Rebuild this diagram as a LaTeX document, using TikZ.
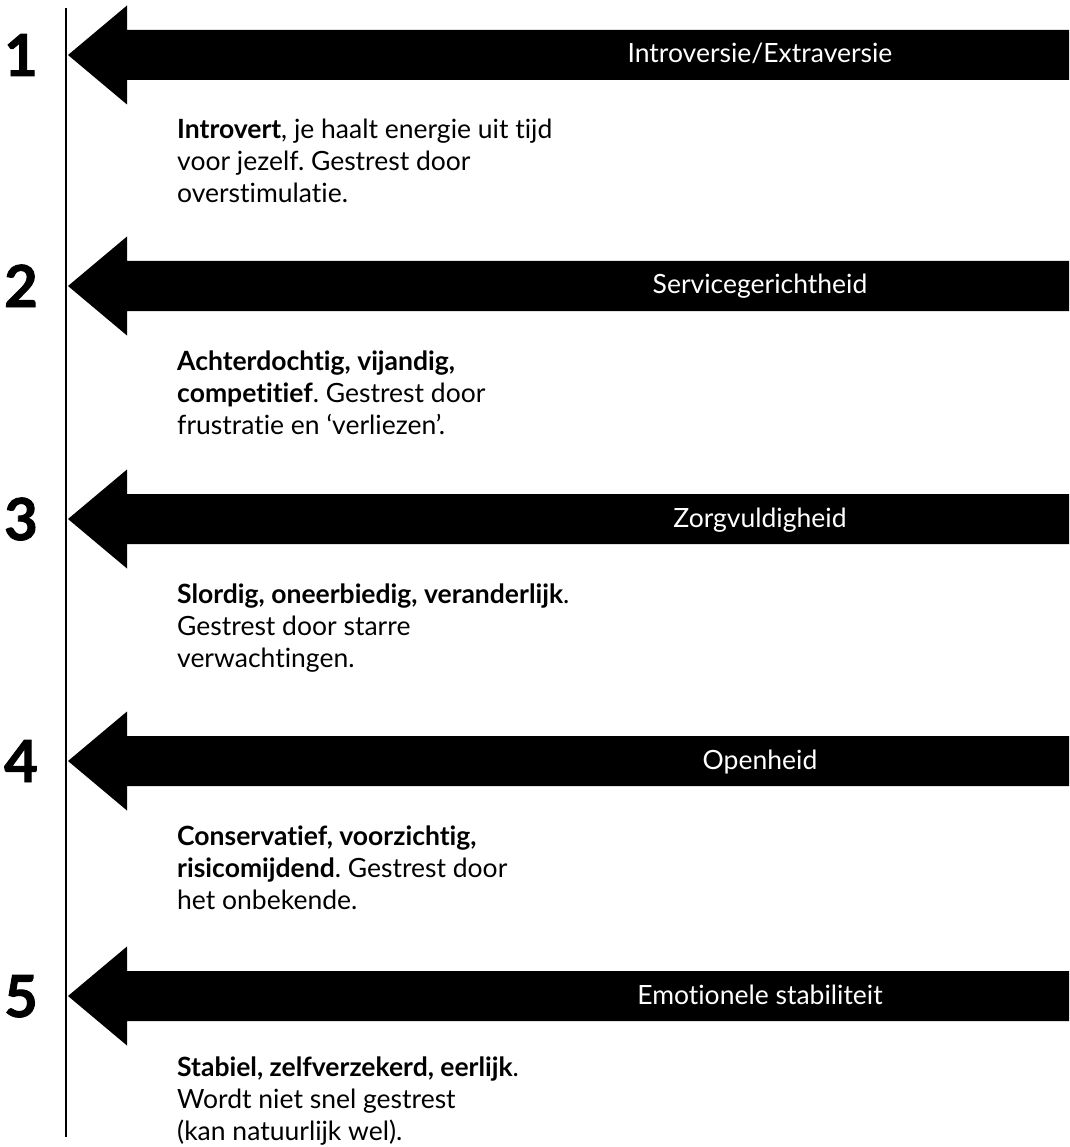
\documentclass[tikz,border=0pt]{standalone}
\usepackage{fontspec}
\setmainfont{Lato}[Ligatures=NoCommon]
\newfontfamily\numfont{Lato}[BoldFeatures={FakeBold=1.5}]
\frenchspacing
\begin{document}
\begin{tikzpicture}
  [x=1pt,y=-1pt,
   num/.style={font=\numfont\fontsize{58}{58}\selectfont\bfseries,anchor=base,inner sep=0pt},
   lbl/.style={text=white,font=\fontsize{26.5}{30}\selectfont,anchor=base,inner sep=0pt},
   body/.style={font=\fontsize{26.5}{32}\selectfont,align=left,anchor=base west,inner sep=0pt}]
  \useasboundingbox (0,0) rectangle (1069,1147);

  % timeline
  \coordinate (top) at (66,8);
  \coordinate (bottom) at (66,1137);
  \draw[line width=2pt] (top) -- (bottom);

  % arrows
  \foreach \c in {55,286,519,761,996}
    \fill (68,\c) -- (127,\c-49.5) -- (127,\c-25) -- (1069,\c-25)
      -- (1069,\c+25) -- (127,\c+25) -- (127,\c+49.5) -- cycle;

  \node[num] (n1) at (21,76) {1};
  \node[num] (n2) at (21,307) {2};
  \node[num] (n3) at (21,540) {3};
  \node[num] (n4) at (21,782) {4};
  \node[num] (n5) at (21,1017) {5};

  \node[lbl] (l1) at (760,63) {Introversie/Extraversie};
  \node[lbl] (l2) at (760,294) {Servicegerichtheid};
  \node[lbl] (l3) at (760,527) {Zorgvuldigheid};
  \node[lbl] (l4) at (760,769) {Openheid};
  \node[lbl] (l5) at (760,1004) {Emotionele stabiliteit};

  % base anchor sits on the last line
  \node[body] (t1) at (177,203) {\textbf{Introvert}, je haalt energie uit tijd\\voor jezelf. Gestrest door\\overstimulatie.};
  \node[body] (t2) at (177,434) {\textbf{Achterdochtig, vijandig,}\\\textbf{competitief}. Gestrest door\\frustratie en ‘verliezen’.};
  \node[body] (t3) at (177,667) {\textbf{Slordig, oneerbiedig, veranderlijk}.\\Gestrest door starre\\verwachtingen.};
  \node[body] (t4) at (177,909) {\textbf{Conservatief, voorzichtig,}\\\textbf{risicomijdend}. Gestrest door\\het onbekende.};
  \node[body] (t5) at (177,1140) {\textbf{Stabiel, zelfverzekerd, eerlijk}.\\Wordt niet snel gestrest\\(kan natuurlijk wel).};
\end{tikzpicture}
\end{document}
